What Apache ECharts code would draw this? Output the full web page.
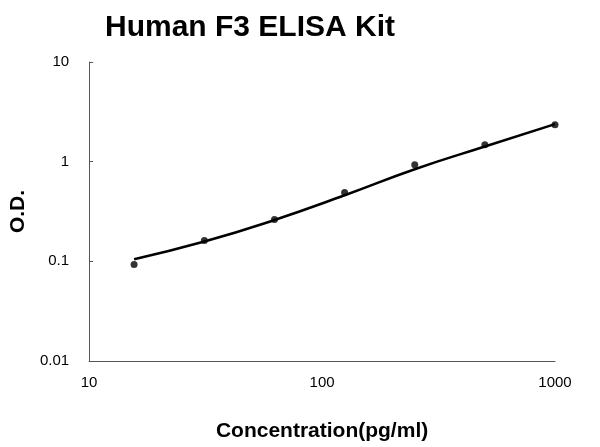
<!DOCTYPE html><html><head><meta charset="utf-8"><script src="https://cdn.jsdelivr.net/npm/echarts@6/dist/echarts.min.js"></script></head><body style="margin:0"><div id="c" style="width:600px;height:447px"></div><script>
const conc=[15.6,31.25,62.5,125,250,500,1000];
const od=[0.093,0.162,0.263,0.49,0.93,1.48,2.34];
const fitX=[15.6,31.25,62.5,125,250,500,1000];
const fitY=[0.105,0.158,0.26,0.46,0.84,1.42,2.38];
const ch=echarts.init(document.getElementById('c'));
const ax={fontFamily:'Liberation Sans',fontSize:15,color:'#000'};
ch.setOption({
title:{text:'Human F3 ELISA Kit',left:245,textAlign:'center',top:8,textStyle:{fontFamily:'Liberation Sans',fontWeight:'bold',fontSize:30,color:'#000'}},
grid:{left:88,right:45,top:62,bottom:86},
xAxis:{type:'log',min:10,max:1000,logBase:10,name:'Concentration(pg/ml)',nameLocation:'middle',nameGap:60,nameTextStyle:{fontFamily:'Liberation Sans',fontWeight:'bold',fontSize:21,color:'#000'},axisLine:{lineStyle:{color:'#555'}},axisTick:{show:false},splitLine:{show:false},axisLabel:Object.assign({margin:14,formatter:v=>String(Math.round(v))},ax)},
yAxis:{type:'log',min:0.01,max:10,logBase:10,name:'O.D.',nameLocation:'middle',nameGap:58,nameTextStyle:{fontFamily:'Liberation Sans',fontWeight:'bold',fontSize:21,color:'#000'},axisLine:{show:true,lineStyle:{color:'#555'}},axisTick:{show:true,inside:true,length:4},minorTick:{show:false},splitLine:{show:false},axisLabel:Object.assign({margin:20,formatter:v=>String(+v.toPrecision(2))},ax)},
series:[
{type:'line',data:fitX.map((x,i)=>[x,fitY[i]]),smooth:true,symbol:'none',lineStyle:{color:'#000',width:2.5},z:1},
{type:'scatter',data:conc.map((x,i)=>[x,od[i]]),symbolSize:7,itemStyle:{color:'#000'},z:2}
]});
</script></body></html>
